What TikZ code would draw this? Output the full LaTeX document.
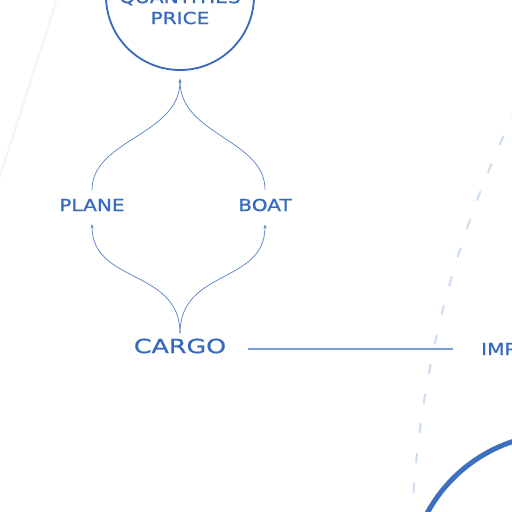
\documentclass[tikz,border=0pt]{standalone}
\usepackage{fontspec}
\usetikzlibrary{arrows.meta}
\newfontfamily\sk[FakeStretch=1.22,FakeBold=0.8]{DejaVu Sans}
\newfontfamily\skw[FakeStretch=1.3,FakeBold=0.8]{DejaVu Sans}
\definecolor{ink}{RGB}{55,105,190}
\definecolor{conncol}{RGB}{85,128,200}
\definecolor{linkcol}{RGB}{120,156,215}
\definecolor{dashcol}{RGB}{205,221,240}
\definecolor{faint}{RGB}{243,245,248}
\definecolor{bigarc}{RGB}{62,112,192}
\begin{document}
\begin{tikzpicture}[x=1pt,y=-1pt,
  lbl/.style={inner sep=0pt, text=ink, font=\sk\fontsize{16.5}{18}\selectfont},
  biglbl/.style={inner sep=0pt, text=ink, font=\skw\fontsize{19.5}{22}\selectfont},
  qcirc/.style={circle, draw=ink, line width=1.8pt, minimum size=148pt, inner sep=0pt},
  conn/.style={draw=conncol, line width=0.7pt, -{Stealth[length=4pt,width=3pt]}},
  link/.style={draw=linkcol, line width=2.4pt},
]
\useasboundingbox (0,0) rectangle (512,512);
\clip (0,0) rectangle (512,512);
\fill[white] (0,0) rectangle (512,512);

% faint background arcs
\draw[faint, line width=2pt] (57,-2) .. controls (38,60) and (18,120) .. (-3,185);
\draw[dashcol, line width=2pt, dash pattern=on 10pt off 20pt] (1452.5,565.3) ++(206:1041.5) arc[start angle=206, end angle=177, radius=1041.5];
\draw[bigarc, line width=5pt] (560,585) circle[radius=151];

% nodes
\node[qcirc] (qp) at (180,-4) {};
\node[lbl] (qtext) at (180,-2) {QUANTITIES};
\node[lbl] (price) at (180,18) {PRICE};
\node[lbl] (plane) at (92,205) {PLANE};
\node[lbl] (boat) at (265,205) {BOAT};
\node[biglbl] (cargo) at (180,346) {CARGO};
\node[lbl, anchor=west] (imp) at (481,349) {IMPORTS};

% connectors
\draw[conn] ([yshift=5pt]cargo.north) .. controls +(0,-65) and +(0,60) .. ([yshift=-13pt]plane.south);
\draw[conn] ([yshift=5pt]cargo.north) .. controls +(0,-65) and +(0,60) .. ([yshift=-13pt]boat.south);
\draw[conn] ([yshift=9pt]plane.north) .. controls +(0,-50) and +(0,56) .. ([yshift=-8pt]qp.south);
\draw[conn] ([yshift=9pt]boat.north) .. controls +(0,-50) and +(0,56) .. ([yshift=-8pt]qp.south);
\draw[link, shorten <=22pt, shorten >=28pt] ([yshift=-3pt]cargo.east) -- ([yshift=-3pt]cargo.east -| imp.west);
\end{tikzpicture}
\end{document}
